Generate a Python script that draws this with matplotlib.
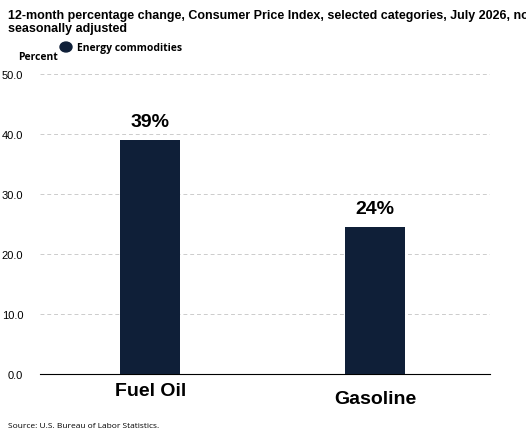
import matplotlib
matplotlib.use("Agg")
import matplotlib.pyplot as plt

categories = ["Fuel Oil", "Gasoline"]
values = [39.0, 24.5]
labels = ["39%", "24%"]
yticks = [0, 10, 20, 30, 40, 50]

plt.rcParams['font.family'] = ['Liberation Sans', 'DejaVu Sans']
fig = plt.figure(figsize=(5.26, 4.35), dpi=100)
ax = fig.add_axes([40/526, 1-375/435, 450/526, 300/435])
color = "#0f1f38"
x = list(range(len(categories)))
ax.bar(x, values, width=0.267, color=color, zorder=3)
for xi, v, l in zip(x, values, labels):
    ax.text(xi, v + 1.6, l, ha="center", va="bottom", fontsize=14, fontweight="bold")
ax.set_xlim(-0.49, 1.51)
ax.set_ylim(0, 50)
ax.set_yticks(yticks)
ax.set_yticklabels([f"{t:.1f}" for t in yticks], fontsize=8)
ax.set_xticks(x)
ax.set_xticklabels(categories, fontsize=14, fontweight="bold")
ax.tick_params(axis="x", length=0, pad=6)
ax.tick_params(axis="y", length=0, pad=12)
ax.get_xticklabels()[1].set_y(-0.025)
ax.grid(axis="y", color="#cccccc", linestyle=(0, (4, 3)), linewidth=0.7, zorder=0)
for s in ["top", "right", "left"]:
    ax.spines[s].set_visible(False)
ax.spines["bottom"].set_color("black")
fig.text(8/526, 1-10/435, "12-month percentage change, Consumer Price Index, selected categories, July 2026, not\nseasonally adjusted",
         fontsize=9, fontweight="bold", va="top", ha="left", linespacing=1.1)
fig.text(18/526, 1-57/435, "Percent", fontsize=7.5, fontweight="bold", va="center", family="Open Sans")
fig.patches.append(matplotlib.patches.Circle((66/526, 1-48/435), 6/526, transform=fig.transFigure, color=color, figure=fig))
fig.text(77/526, 1-48/435, "Energy commodities", fontsize=7.5, fontweight="bold", va="center", family="Open Sans")
fig.text(8/526, 1-427/435, "Source: U.S. Bureau of Labor Statistics.", fontsize=6, va="center", family="Open Sans")
fig.savefig("out.png", dpi=100)
